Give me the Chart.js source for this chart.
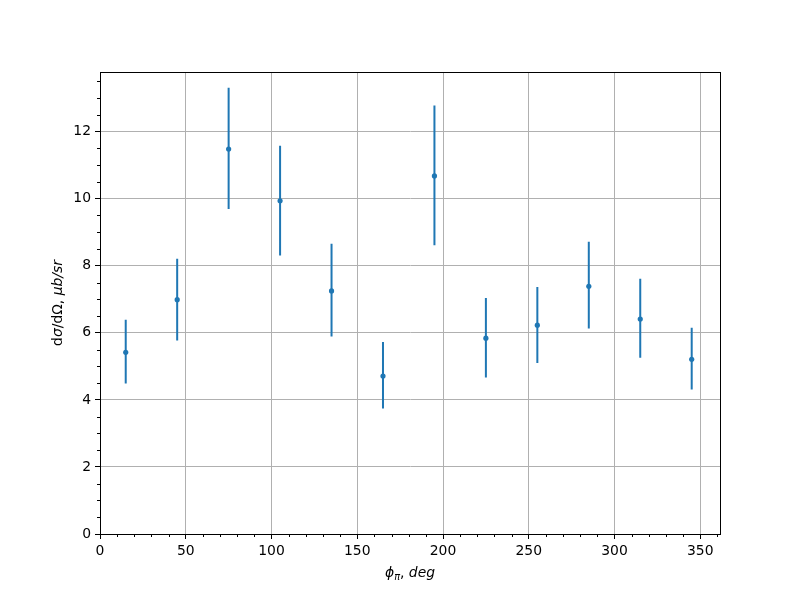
<!DOCTYPE html>
<html>
<head>
<meta charset="utf-8">
<script src="https://cdn.jsdelivr.net/npm/chart.js@4/dist/chart.umd.min.js"></script>
<style>
  body { margin: 0; background: #fff; }
  canvas { display: block; }
</style>
</head>
<body>
<canvas id="chart" width="800" height="600"></canvas>
<script>
// Data
const phiDeg = [15, 45, 75, 105, 135, 165, 195, 225, 255, 285, 315, 345];
const crossSection = [5.42, 6.99, 11.48, 9.94, 7.25, 4.71, 10.68, 5.84, 6.23, 7.39, 6.41, 5.21];
const errLow = [4.49, 5.77, 9.69, 8.31, 5.89, 3.74, 8.61, 4.67, 5.10, 6.13, 5.26, 4.31];
const errHigh = [6.39, 8.21, 13.31, 11.58, 8.66, 5.73, 12.78, 7.04, 7.37, 8.72, 7.61, 6.15];

const xTicks = [0, 50, 100, 150, 200, 250, 300, 350];
const yTicks = [0, 2, 4, 6, 8, 10, 12];

const blue = '#1f77b4';
const fontSize = 13.9;

Chart.defaults.font.family = "'DejaVu Sans', sans-serif";
Chart.defaults.font.size = fontSize;
Chart.defaults.color = '#000';

// Points for error bars: a vertical segment per point, separated by gaps
const barPoints = [];
phiDeg.forEach((x, i) => {
    barPoints.push({ x: x, y: errLow[i] });
    barPoints.push({ x: x, y: errHigh[i] });
    barPoints.push({ x: x, y: null });
});

// Minor ticks, frame and axis titles (matplotlib look)
const decorPlugin = {
    id: 'decor',
    afterDraw(chart) {
        const ctx = chart.ctx;
        const area = chart.chartArea;
        const xs = chart.scales.x;
        const ys = chart.scales.y;
        ctx.save();
        ctx.strokeStyle = '#000';
        ctx.lineWidth = 1;
        ctx.beginPath();
        for (let v = 0; v <= xs.max; v += 10) {
            if (v % 50 === 0) continue;
            const px = Math.round(xs.getPixelForValue(v)) + 0.5;
            ctx.moveTo(px, area.bottom);
            ctx.lineTo(px, area.bottom + 3);
        }
        for (let v = 0; v <= ys.max; v += 0.5) {
            if (v % 2 === 0) continue;
            const py = Math.round(ys.getPixelForValue(v)) + 0.5;
            ctx.moveTo(area.left, py);
            ctx.lineTo(area.left - 3, py);
        }
        ctx.stroke();

        // frame
        ctx.strokeRect(Math.round(area.left) + 0.5, Math.round(area.top) + 0.5,
            Math.round(area.right - area.left), Math.round(area.bottom - area.top));

        // text pieces drawn one after the other
        const drawPieces = (pieces, cx, cy) => {
            let total = 0;
            pieces.forEach(p => { ctx.font = p.font; total += ctx.measureText(p.text).width; });
            let x = cx - total / 2;
            pieces.forEach(p => {
                ctx.font = p.font;
                ctx.fillText(p.text, x, cy + (p.dy || 0));
                x += ctx.measureText(p.text).width;
            });
        };
        const fam = "'DejaVu Sans', sans-serif";
        const up = fontSize + 'px ' + fam;
        const it = 'italic ' + fontSize + 'px ' + fam;
        const sub = 'italic ' + (fontSize * 0.7) + 'px ' + fam;
        ctx.fillStyle = '#000';
        ctx.textBaseline = 'alphabetic';

        drawPieces([
            { text: 'ϕ', font: it },
            { text: 'π', font: sub, dy: 3 },
            { text: ', ', font: up },
            { text: 'deg', font: it }
        ], (area.left + area.right) / 2, 577);

        ctx.save();
        ctx.translate(62, (area.top + area.bottom) / 2);
        ctx.rotate(-Math.PI / 2);
        drawPieces([
            { text: 'd', font: up },
            { text: 'σ', font: it },
            { text: '/dΩ, ', font: up },
            { text: 'μb/sr', font: it }
        ], 0, 0);
        ctx.restore();
        ctx.restore();
    }
};

new Chart(document.getElementById('chart'), {
    type: 'scatter',
    data: {
        datasets: [
            {
                label: 'values',
                data: phiDeg.map((x, i) => ({ x: x, y: crossSection[i] })),
                backgroundColor: blue,
                borderColor: blue,
                borderWidth: 0,
                pointRadius: 2.6,
                pointHoverRadius: 2.6,
                order: 0
            },
            {
                label: 'errors',
                data: barPoints,
                showLine: true,
                spanGaps: false,
                borderColor: blue,
                borderWidth: 2,
                pointRadius: 0,
                order: 1
            }
        ]
    },
    options: {
        responsive: false,
        animation: false,
        devicePixelRatio: 1,
        layout: { padding: { top: 72, right: 80, left: 0, bottom: 0 } },
        plugins: { legend: { display: false }, tooltip: { enabled: false } },
        scales: {
            x: {
                type: 'linear',
                min: 0,
                max: 361.5,
                afterBuildTicks: (scale) => { scale.ticks = xTicks.map(v => ({ value: v })); },
                afterFit: (scale) => { scale.height = 66; },
                ticks: { padding: 4, maxRotation: 0, autoSkip: false },
                grid: { color: '#b0b0b0', lineWidth: 1, tickColor: '#000', tickLength: 5 },
                border: { display: true, color: '#000', width: 1 }
            },
            y: {
                type: 'linear',
                min: 0,
                max: 13.78,
                afterBuildTicks: (scale) => { scale.ticks = yTicks.map(v => ({ value: v })); },
                afterFit: (scale) => { scale.width = 100; },
                ticks: { padding: 4, autoSkip: false },
                grid: { color: '#b0b0b0', lineWidth: 1, tickColor: '#000', tickLength: 5 },
                border: { display: true, color: '#000', width: 1 }
            }
        }
    },
    plugins: [decorPlugin]
});
</script>
</body>
</html>
